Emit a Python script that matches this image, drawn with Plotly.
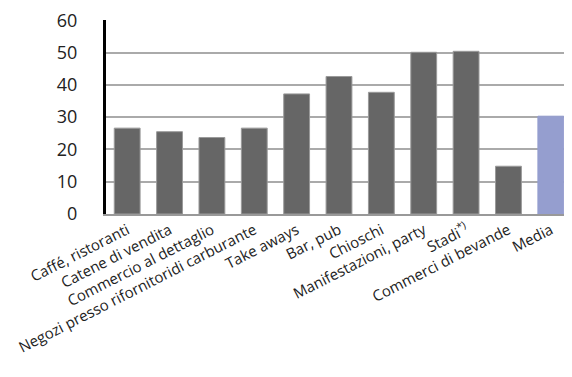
import plotly.graph_objects as go

categories = ["Caffé, ristoranti", "Catene di vendita", "Commercio al dettaglio",
              "Negozi presso rifornitoridi carburante", "Take aways", "Bar, pub",
              "Chioschi", "Manifestazioni, party", "Stadi<sup>*)</sup>",
              "Commerci di bevande", "Media"]
values = [26.6, 25.5, 23.7, 26.6, 37.2, 42.6, 37.7, 50.1, 50.4, 14.8, 30.3]
bar_colors = ["#666666"] * 10 + ["#959ecf"]
line_colors = ["#9a9a9a"] * 10 + ["#959ecf"]

fig = go.Figure()
fig.add_trace(go.Bar(
    x=categories, y=values,
    marker=dict(color=bar_colors, line=dict(color=line_colors, width=1)),
))

# the page body adds an 8px margin, so the figure is made smaller to fit
fig.update_layout(
    width=564, height=361,
    margin=dict(l=98, r=0, t=12, b=155),
    paper_bgcolor="white", plot_bgcolor="white",
    font=dict(family="Open Sans, Noto Sans, sans-serif", color="#222222"),
    bargap=0.39,
    showlegend=False,
)
fig.update_xaxes(
    tickangle=-27, tickfont=dict(size=15), automargin=False,
    showline=True, linecolor="#999999", linewidth=1.5,
    showgrid=False, ticks="", ticklabeloverflow="allow",
)
fig.update_yaxes(
    range=[0, 60.1], tickvals=[0, 10, 20, 30, 40, 50, 60],
    tickfont=dict(size=18), automargin=False, ticklabeloverflow="allow",
    showgrid=True, gridcolor="#aaaaaa", gridwidth=1.5,
    showline=True, linecolor="black", linewidth=3,
    zeroline=False, ticks="", ticklabelstandoff=22,
)

fig.write_html("out.html")
